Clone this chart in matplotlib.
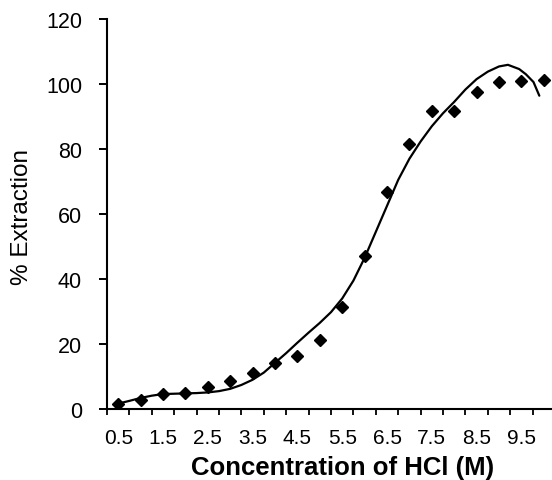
import matplotlib
matplotlib.use("Agg")
import matplotlib.pyplot as plt
import numpy as np

# HCl concentration (M) and measured % extraction
conc = [0.5, 1.0, 1.5, 2.0, 2.5, 3.0, 3.5, 4.0, 4.5, 5.0,
        5.5, 6.0, 6.5, 7.0, 7.5, 8.0, 8.5, 9.0, 9.5, 10.0]
extraction = [1.5, 2.9, 4.5, 4.9, 6.9, 8.7, 11.0, 14.2, 16.2, 21.3,
              31.3, 47.0, 66.8, 81.6, 91.6, 91.7, 97.4, 100.7, 100.8, 101.2]

# Trend curve through the data
trend_x = [0.45, 0.75, 1.0, 1.25, 1.5, 1.75, 2.0, 2.25, 2.5, 2.75,
           3.0, 3.25, 3.5, 3.75, 4.0, 4.25, 4.5, 4.75, 5.0, 5.25,
           5.5, 5.75, 6.0, 6.25, 6.5, 6.75, 7.0, 7.25, 7.5, 7.75,
           8.0, 8.25, 8.5, 8.75, 9.0, 9.2, 9.45, 9.6, 9.77, 9.9]
trend_y = [1.5, 2.5, 3.4, 4.1, 4.6, 4.7, 4.8, 4.9, 5.1, 5.5,
           6.2, 7.4, 9.0, 11.2, 14.2, 17.2, 20.4, 23.5, 26.5, 29.8,
           34.0, 39.5, 46.5, 54.5, 62.5, 70.5, 77.0, 82.3, 87.0, 91.0,
           94.5, 98.3, 101.5, 103.8, 105.4, 105.9, 104.6, 103.0, 100.6, 96.4]

tick_labels = ["0.5", "1.5", "2.5", "3.5", "4.5", "5.5", "6.5", "7.5", "8.5", "9.5"]
yticks = [0, 20, 40, 60, 80, 100, 120]

plt.rcParams['font.family'] = ['Liberation Sans', 'DejaVu Sans']

W, H = 552, 481
fig = plt.figure(figsize=(W / 100, H / 100), dpi=100)
ax = fig.add_axes([107 / W, 71 / H, 448 / W, 390 / H])

ax.plot(trend_x, trend_y, color='black', lw=1.6, solid_capstyle='round', zorder=2)
ax.plot(conc, extraction, linestyle='none', marker='D', markersize=6.6,
        color='black', zorder=3)

ax.set_xlim(0.25, 10.25)
ax.set_ylim(0, 120)

for s in ['top', 'right']:
    ax.spines[s].set_visible(False)
for s in ['left', 'bottom']:
    ax.spines[s].set_linewidth(1.5)
    ax.spines[s].set_color('black')

ax.set_yticks(yticks)
ax.set_yticklabels([str(v) for v in yticks])
ax.tick_params(axis='y', direction='out', length=6, width=1.4, pad=12,
               labelsize=15.5, colors='black')

# category boundary ticks on x, labels on every other category
bounds = np.arange(0.25, 10.26, 0.5)
ax.set_xticks(bounds)
ax.set_xticklabels([''] * len(bounds))
ax.tick_params(axis='x', which='major', direction='out', length=4, width=1.3)
label_pos = [float(t) for t in tick_labels]
ax.set_xticks(label_pos, minor=True)
ax.set_xticklabels(tick_labels, minor=True)
ax.tick_params(axis='x', which='minor', length=0, pad=14, labelsize=15)

fig.text(343 / W, 1 - 468 / H, "Concentration of HCl (M)", ha='center',
         va='center', fontsize=18.5, fontweight='bold')
fig.text(22 / W, 1 - 217 / H, "% Extraction", ha='center', va='center',
         rotation=90, fontsize=17.5)

fig.savefig("out.png", dpi=100)
